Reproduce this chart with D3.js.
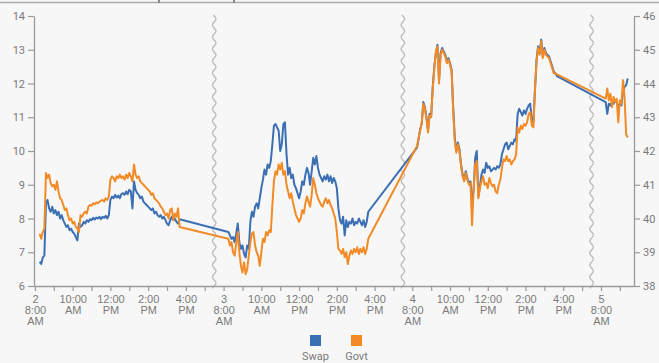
<!DOCTYPE html>
<html>
<head>
<meta charset="utf-8">
<script src="https://cdn.jsdelivr.net/npm/d3@7"></script>
<style>
  html, body { margin: 0; padding: 0; background: #f7f7f7; }
  svg { display: block; font-family: Roboto, "Open Sans", sans-serif; }
</style>
</head>
<body>
<svg id="chart" width="659" height="363"></svg>
<script>
// Trading days shown on the axis (each session drawn from 8:00 to 18:00)
const tradingDays = [2, 3, 4, 5];
// Quotes are every 5 minutes starting at 8:15 on each day
const firstQuoteHour = 8.25;
const quoteStepMinutes = 5;

// Swap spread (left axis)
const swapDay2 = [6.72, 6.65, 6.85, 6.9,
  8.45, 8.55, 8.3, 8.2, 8.35, 8.15,
  8.25, 8.1, 8.2, 8.0, 8.1, 7.95, 7.85, 7.75, 7.8, 7.65,
  7.7, 7.6, 7.55, 7.45, 7.35, 7.85, 7.75, 7.8, 7.9, 7.85,
  7.95, 7.9, 7.98, 7.95, 8.02, 7.97, 8.03, 8.0, 8.05, 7.98,
  8.05, 8.02, 8.08, 8.0, 8.1, 8.55, 8.65, 8.6, 8.7, 8.62,
  8.68, 8.6, 8.72, 8.75, 8.7, 8.8, 8.72, 8.85, 8.8, 8.3,
  9.1, 8.85, 8.75, 8.7, 8.6, 8.65, 8.5, 8.45, 8.4, 8.35,
  8.3, 8.25, 8.3, 8.15, 8.2, 8.1, 8.05, 8.1, 8.0, 8.05,
  7.95, 7.85, 7.8, 7.95, 8.05, 7.95, 8.0, 7.9, 7.85, 7.98];
const swapDay3 = [7.6, 7.5, 7.4, 7.45, 7.3, 7.55, 7.85, 7.3, 7.1, 7.2,
  6.95, 6.85, 7.2, 7.1, 7.9, 8.2, 8.05, 8.35, 8.45, 8.3,
  8.6, 8.9, 9.15, 9.45, 9.3, 9.6, 9.5, 9.7, 10.2, 10.75,
  10.8, 10.7, 10.6, 10.0, 10.2, 10.8, 10.85, 9.9, 9.3, 9.5,
  9.2, 9.3, 9.0, 8.9, 8.75, 8.6, 8.8, 9.1, 9.0, 9.3,
  9.5, 9.35, 9.0, 9.4, 9.8, 9.6, 9.85, 9.5, 9.3, 9.2,
  9.1, 9.25, 9.15, 9.3, 9.1, 9.25, 9.05, 9.2, 9.1, 8.9,
  8.3, 7.95, 7.85, 8.05, 7.5, 7.95, 7.75, 7.9, 7.85, 8.0,
  7.8, 7.9, 7.85, 8.0, 7.9, 7.8, 7.95, 7.75, 7.9, 8.2];
const swapDay4 = [10.1, 10.35, 10.65, 10.8, 11.45, 11.3, 11.0, 10.6, 11.1, 11.05,
  11.9, 12.5, 12.9, 13.15, 12.1, 12.9, 13.05, 12.95, 12.85, 12.65,
  12.75, 12.6, 12.4, 11.3, 10.4, 10.0, 10.25, 10.05, 9.6, 9.3,
  9.15, 9.4, 9.2, 9.05, 9.1, 8.5, 8.85, 9.8, 10.0, 8.65,
  8.95, 9.3, 9.45, 9.35, 9.65, 9.5, 9.55, 9.4, 9.45, 9.5,
  9.45, 9.55, 9.5, 9.6, 9.9, 10.05, 10.2, 10.25, 10.05, 10.15,
  10.25, 10.2, 10.35, 10.3, 11.1, 11.25, 11.15, 11.05, 11.2, 11.1,
  11.25, 11.35, 11.4, 10.9, 10.85, 11.8, 12.7, 13.1, 12.9, 13.3,
  12.8, 13.05, 12.9, 12.85, 12.8, 12.65, 12.5, 12.35, 12.3, 12.22];
const swapDay5 = [11.45, 11.1, 11.4, 11.35, 11.45, 11.4, 11.5, 11.45, 11.3, 11.4,
  11.35, 11.75, 11.9, 11.95, 12.15];

// Government spread (right axis)
const govtDay2 = [39.55, 39.4, 39.6, 39.7,
  41.35, 41.2, 41.3, 41.05, 40.95, 41.0,
  40.85, 41.1, 40.8, 40.6, 40.55, 40.4, 40.25, 40.3, 40.1, 39.95,
  40.0, 39.85, 39.9, 39.75, 39.7, 39.6, 40.1, 40.05, 40.15, 40.2,
  40.15, 40.35, 40.4, 40.38, 40.45, 40.42, 40.48, 40.45, 40.5, 40.52,
  40.55, 40.5, 40.6, 40.55, 40.65, 41.15, 41.25, 41.2, 41.1, 41.25,
  41.2, 41.3, 41.2, 41.25, 41.15, 41.3, 41.2, 41.35, 41.25, 41.1,
  41.6, 41.3, 41.2, 41.25, 41.1, 41.05, 41.0, 40.95, 40.9, 40.85,
  40.8, 40.7, 40.75, 40.6, 40.55, 40.5, 40.45, 40.35, 40.3, 40.2,
  40.1, 40.15, 40.0, 40.25, 40.3, 39.95, 40.15, 40.05, 40.3, 39.75];
const govtDay3 = [39.4, 39.2, 39.3, 39.0, 38.9, 39.25, 39.6, 39.0, 38.6, 38.4,
  38.7, 38.35, 38.5, 38.9, 39.3, 39.55, 39.6, 39.2, 39.0, 38.9,
  38.6, 39.0, 39.4, 39.3, 39.6, 39.5, 39.65, 39.6, 40.4, 41.1,
  41.4, 41.3, 41.6, 41.45, 41.65, 41.3, 41.4, 41.0, 40.8, 40.6,
  40.75, 40.5, 40.3, 40.1, 40.0, 39.9, 40.0, 40.25, 40.15, 40.45,
  40.65, 40.5, 40.35, 40.7, 41.2, 41.0, 40.75, 40.6, 40.5, 40.4,
  40.35, 40.5, 40.6, 40.45, 40.55, 40.4, 40.3, 40.15, 40.0, 39.6,
  39.1, 39.05, 38.95, 39.1, 38.85, 39.0, 38.65, 38.9, 39.05, 38.95,
  39.1, 39.0, 39.15, 38.95, 39.1, 39.0, 39.15, 38.95, 39.1, 39.4];
const govtDay4 = [42.15, 42.4, 42.6, 42.85, 43.4, 43.25, 42.95, 42.55, 43.05, 43.0,
  43.85, 44.45, 44.95, 45.1, 44.0, 44.85, 45.0, 44.9, 44.8, 44.6,
  44.7, 44.55, 44.35, 43.2, 42.3, 41.95, 42.2, 42.0, 41.55, 41.25,
  41.1, 41.35, 41.15, 41.0, 41.05, 39.8, 40.85, 41.6, 41.7, 40.6,
  40.9, 41.1, 41.25, 41.0, 41.05, 40.9, 41.2, 41.05, 40.95, 41.0,
  40.8, 40.75, 41.0, 41.15, 41.5, 41.75, 41.7, 41.85, 41.7, 41.75,
  41.6, 41.7, 41.75, 41.9, 42.7, 42.55, 42.75, 42.65, 42.8, 42.75,
  42.85, 43.1, 43.15, 42.75, 42.7, 43.8, 44.65, 45.05, 44.85, 45.25,
  44.75, 45.0, 44.85, 44.8, 44.75, 44.6, 44.45, 44.3, 44.3, 44.27];
const govtDay5 = [43.55, 43.85, 43.5, 43.7, 43.3, 43.6, 43.45, 43.55, 42.85, 43.5,
  43.4, 44.1, 43.6, 42.5, 42.4];

const swapTicks = [6, 7, 8, 9, 10, 11, 12, 13, 14];
const govtTicks = [38, 39, 40, 41, 42, 43, 44, 45, 46];
const labelledHours = [8, 10, 12, 14, 16];
const seriesNames = ["Swap", "Govt"];
const seriesColors = ["#3b6fb3", "#f28b26"];

// ---- time axis without the overnight gaps: each day occupies 10 hours ----
const hoursPerSession = 10;
const sessionPos = (day, hour) => (day - tradingDays[0]) * hoursPerSession + (hour - 8);

function toPoints(dayValues) {
  const pts = [];
  dayValues.forEach((vals, k) => {
    vals.forEach((v, i) => {
      pts.push({ t: sessionPos(tradingDays[k], firstQuoteHour + i * quoteStepMinutes / 60), v });
    });
  });
  return pts;
}
const swapPoints = toPoints([swapDay2, swapDay3, swapDay4, swapDay5]);
const govtPoints = toPoints([govtDay2, govtDay3, govtDay4, govtDay5]);

const svg = d3.select("#chart");
const plotLeft = 34, plotRight = 634, plotTop = 16, plotBottom = 286;

const x = d3.scaleLinear().domain([-0.05, 31.75]).range([plotLeft, plotRight]);
const ySwap = d3.scaleLinear().domain([6, 14]).range([plotBottom, plotTop]);
const yGovt = d3.scaleLinear().domain([38, 46]).range([plotBottom, plotTop]);

const axisColor = "#9a9a9a";
const textColor = "#7a7a7a";

// header rule
svg.append("line").attr("x1", 0).attr("x2", 659).attr("y1", 2.5).attr("y2", 2.5)
  .attr("stroke", "#aaaaaa").attr("stroke-width", 1.5);
[159, 234].forEach(px => svg.append("line").attr("x1", px).attr("x2", px)
  .attr("y1", 0).attr("y2", 3).attr("stroke", "#8a8a8a").attr("stroke-width", 2));

// overnight break markers (wavy lines at 17:30)
const breakPositions = tradingDays.slice(0, -1).map(d => sessionPos(d, 17.5));
const wave = d3.line().x(d => d[0]).y(d => d[1]);
breakPositions.forEach(bp => {
  const bx = x(bp);
  const pts = d3.range(plotTop - 1, plotBottom + 3, 0.5)
    .map(yy => [bx + 1.7 * Math.sin((yy - plotTop) * 2 * Math.PI / 12), yy]);
  svg.append("path").attr("d", wave(pts)).attr("fill", "none")
    .attr("stroke", "#bdbdbd").attr("stroke-width", 1.4);
});

// x axis: hourly ticks, day + time labels
const hourTicks = [];
tradingDays.forEach((d, k) => {
  const last = k === tradingDays.length - 1 ? 9 : 17;
  for (let h = 8; h <= last; h++) hourTicks.push({ day: d, hour: h });
});
const tickPos = hourTicks.map(t => sessionPos(t.day, t.hour));
const gx = svg.append("g").attr("transform", `translate(0,${plotBottom})`)
  .call(d3.axisBottom(x).tickValues(tickPos).tickSize(5).tickSizeOuter(0).tickFormat(() => ""));
gx.select(".domain").attr("stroke", axisColor).attr("stroke-width", 1.3);
gx.selectAll(".tick line").attr("stroke", axisColor).attr("stroke-width", 1.2);
gx.selectAll(".tick").each(function (p, i) {
  const t = hourTicks[i];
  if (!labelledHours.includes(t.hour)) return;
  const h12 = t.hour > 12 ? t.hour - 12 : t.hour;
  const lines = [];
  if (t.hour === 8) lines.push(String(t.day));
  lines.push(`${h12}:00`, t.hour < 12 ? "AM" : "PM");
  const txt = d3.select(this).append("text").attr("fill", textColor)
    .attr("font-size", 11).attr("text-anchor", "middle");
  lines.forEach((s, j) => txt.append("tspan").attr("x", 0).attr("y", 17 + j * 11).text(s));
});

// y axes
const gl = svg.append("g").attr("transform", `translate(${plotLeft},0)`)
  .call(d3.axisLeft(ySwap).tickValues(swapTicks).tickSize(6).tickSizeOuter(0).tickPadding(3));
const gr = svg.append("g").attr("transform", `translate(${plotRight},0)`)
  .call(d3.axisRight(yGovt).tickValues(govtTicks).tickSize(6).tickSizeOuter(0).tickPadding(3));
[gl, gr].forEach(g => {
  g.select(".domain").attr("stroke", axisColor).attr("stroke-width", 1.3);
  g.selectAll(".tick line").attr("stroke", axisColor).attr("stroke-width", 1.2);
  g.selectAll(".tick text").attr("fill", textColor).attr("font-size", 11)
    .attr("font-family", "Roboto, sans-serif");
});

// series
const swapLine = d3.line().x(d => x(d.t)).y(d => ySwap(d.v));
const govtLine = d3.line().x(d => x(d.t)).y(d => yGovt(d.v));
svg.append("path").datum(swapPoints).attr("d", swapLine).attr("fill", "none")
  .attr("stroke", seriesColors[0]).attr("stroke-width", 2).attr("stroke-linejoin", "round");
svg.append("path").datum(govtPoints).attr("d", govtLine).attr("fill", "none")
  .attr("stroke", seriesColors[1]).attr("stroke-width", 2).attr("stroke-linejoin", "round");

// legend
const legend = svg.append("g");
seriesNames.forEach((name, i) => {
  const cx = 315.5 + i * 41;
  legend.append("rect").attr("x", cx - 5.5).attr("y", 335).attr("width", 11).attr("height", 11)
    .attr("fill", seriesColors[i]);
  legend.append("text").attr("x", cx).attr("y", 359.5).attr("text-anchor", "middle")
    .attr("font-size", 11).attr("fill", textColor).text(name);
});
</script>
</body>
</html>
